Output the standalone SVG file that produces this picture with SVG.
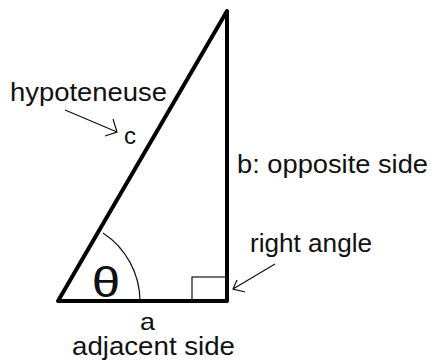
<svg xmlns="http://www.w3.org/2000/svg" width="437" height="362" viewBox="0 0 437 362">
<style>
text{font-family:"Liberation Sans",Arial,sans-serif;fill:#111;font-size:26px}
.sm{font-size:24px}
.theta{font-size:42px}
.thin{fill:none;stroke:#111;stroke-width:1.2}
</style>
<rect width="437" height="362" fill="#fff"/>
<g id="triangle">
<polygon points="58,301 227,11 227,301" fill="none" stroke="#000" stroke-width="4" stroke-linejoin="round"/>
</g>
<g id="right-angle-mark">
<rect x="192" y="277" width="35" height="24" class="thin" stroke-width="1.5"/>
</g>
<g id="angle-arc">
<path d="M103,233 A82,82 0 0 1 140,301" class="thin"/>
<text class="theta" x="106" y="297" text-anchor="middle" transform="translate(106 0) scale(1.22 1) translate(-106 0)">θ</text>
</g>
<g id="labels">
<text x="10" y="101" textLength="157" lengthAdjust="spacingAndGlyphs">hypoteneuse</text>
<text class="sm" x="124" y="144">c</text>
<text x="237" y="173" textLength="191" lengthAdjust="spacingAndGlyphs">b: opposite side</text>
<text x="250" y="252" textLength="122" lengthAdjust="spacingAndGlyphs">right angle</text>
<text class="sm" x="140" y="330" textLength="15" lengthAdjust="spacingAndGlyphs">a</text>
<text x="72" y="355" textLength="163" lengthAdjust="spacingAndGlyphs">adjacent side</text>
</g>
<g id="connectors">
<path d="M65,110 L117,132 M113,119 L117,132 L105,136" class="thin"/>
<path d="M275,264 L233,289 M237,280 L233,289 L245,292" class="thin"/>
</g>
</svg>
